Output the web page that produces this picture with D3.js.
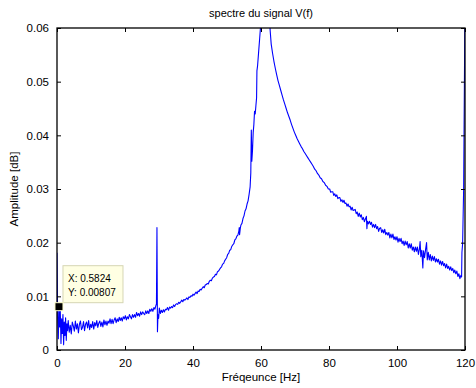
<!DOCTYPE html>
<html>
<head>
<meta charset="utf-8">
<script src="https://cdn.jsdelivr.net/npm/d3@7"></script>
<style>
  html, body { margin: 0; padding: 0; background: #fff; }
  svg { display: block; }
  text { font-family: "Liberation Sans", Arial, Helvetica, sans-serif; fill: #000; }
</style>
</head>
<body>
<svg id="chart" width="476" height="388"></svg>
<script>
// ---- Data ----
const titleText = "spectre du signal V(f)";
const xLabel = "Fréqeunce [Hz]";
const yLabel = "Amplitude [dB]";
const xTicks = [0, 20, 40, 60, 80, 100, 120];
const yTicks = [0, 0.01, 0.02, 0.03, 0.04, 0.05, 0.06];
const datatip = { x: 0.5824, y: 0.00807 };

const lowBand = [
  [0, 0.0181], [0.19, 0.0062], [0.39, 0.0021], [0.58, 0.00807], [0.78, 0.0043], [0.97, 0.0072],
  [1.17, 0.0012], [1.36, 0.0058], [1.56, 0.0031], [1.75, 0.0066], [1.95, 0.0010], [2.14, 0.0052],
  [2.34, 0.0027], [2.53, 0.0060], [2.73, 0.0018], [2.92, 0.0049], [3.1, 0.0036],
  [3.3, 0.0055], [3.6, 0.0033], [3.9, 0.0046], [4.2, 0.0030], [4.5, 0.0052], [4.8, 0.0045],
  [5.1, 0.0035], [5.4, 0.0054], [5.7, 0.0039], [6.0, 0.0049], [6.3, 0.0032], [6.6, 0.0048],
  [6.9, 0.0054], [7.2, 0.0038], [7.5, 0.0042], [7.8, 0.0053], [8.1, 0.0036], [8.4, 0.0048],
  [8.7, 0.0052], [9.0, 0.0041], [9.3, 0.0055], [9.6, 0.0038], [9.9, 0.0048], [10.2, 0.0042],
  [10.5, 0.0053], [10.8, 0.0039], [11.1, 0.0051], [11.4, 0.0045], [11.7, 0.0055], [12.0, 0.0042],
  [12.3, 0.0050], [12.6, 0.0054], [12.9, 0.0044], [13.2, 0.0052], [13.5, 0.0043], [13.8, 0.0056],
  [14.1, 0.0047], [14.4, 0.0054], [14.7, 0.0046], [15.0, 0.0054], [15.3, 0.0050], [15.6, 0.0058],
  [15.9, 0.0049], [16.2, 0.0057], [16.5, 0.0049], [16.8, 0.0056], [17.1, 0.0060], [17.4, 0.0051],
  [17.7, 0.0058], [18.0, 0.0053], [18.3, 0.0061], [18.6, 0.0055], [18.9, 0.0060], [19.2, 0.0054],
  [19.5, 0.0062], [19.8, 0.0058], [20.1, 0.0064], [20.4, 0.0056], [20.7, 0.0062], [21.0, 0.0058],
  [21.3, 0.0066], [21.6, 0.0062], [21.9, 0.0058], [22.2, 0.0066], [22.5, 0.0061], [22.8, 0.0066],
  [23.1, 0.0061], [23.4, 0.0070], [23.7, 0.0064], [24.0, 0.0068], [24.3, 0.0063], [24.6, 0.0071],
  [24.9, 0.0066], [25.2, 0.0071], [25.5, 0.0068], [25.8, 0.0066], [26.1, 0.0073], [26.4, 0.0068],
  [26.7, 0.0073], [27.0, 0.0068], [27.3, 0.0076], [27.6, 0.0072], [27.9, 0.0077], [28.2, 0.0072],
  [28.5, 0.0079], [28.8, 0.0076], [29.1, 0.0083], [29.25, 0.0086]
];

const spike30 = [
  [29.4, 0.0228], [29.55, 0.0034], [29.7, 0.0066], [29.9, 0.0059], [30.1, 0.0078],
  [30.4, 0.0068], [30.7, 0.0074], [31.0, 0.0070]
];

const riseBand = [
  [31.3, 0.0075], [31.6, 0.0071], [31.9, 0.0076], [32.2, 0.0075], [32.5, 0.0079], [32.8, 0.0074],
  [33.1, 0.0080], [33.4, 0.0078], [33.7, 0.0081], [34.0, 0.0079], [34.3, 0.0084], [34.6, 0.0081],
  [34.9, 0.0085], [35.2, 0.0086], [35.5, 0.0085], [35.8, 0.0089], [36.1, 0.0087], [36.4, 0.0090],
  [36.7, 0.0093], [37.0, 0.0090], [37.3, 0.0094], [37.6, 0.0093], [37.9, 0.0095], [38.2, 0.0097],
  [38.5, 0.0094], [38.8, 0.0099], [39.1, 0.0098], [39.4, 0.0101], [39.7, 0.0100], [40.0, 0.0104],
  [40.3, 0.0102], [40.6, 0.0105], [40.9, 0.0108], [41.2, 0.0105], [41.5, 0.0110], [41.8, 0.0109],
  [42.1, 0.0113], [42.4, 0.0112], [42.7, 0.0115], [43.0, 0.0118], [43.3, 0.0116], [43.6, 0.0121],
  [43.9, 0.0122], [44.2, 0.0124], [44.5, 0.0123], [44.8, 0.0128], [45.1, 0.0130], [45.4, 0.0129],
  [45.7, 0.0134], [46.0, 0.0136], [46.3, 0.0137], [46.6, 0.0141], [46.9, 0.0140], [47.2, 0.0146],
  [47.5, 0.0147], [47.8, 0.0150], [48.1, 0.0153], [48.4, 0.0155], [48.7, 0.0160], [49.0, 0.0161],
  [49.3, 0.0166], [49.6, 0.0169], [49.9, 0.0172], [50.2, 0.0178], [50.5, 0.0180], [50.8, 0.0186],
  [51.1, 0.0187], [51.4, 0.0193], [51.7, 0.0196], [52.0, 0.0198], [52.3, 0.0205], [52.6, 0.0207],
  [52.9, 0.0212], [53.2, 0.0214], [53.5, 0.0222], [53.6, 0.0228], [53.7, 0.0215], [53.9, 0.0226],
  [54.1, 0.0233], [54.4, 0.0236], [54.7, 0.0245], [55.0, 0.0250], [55.3, 0.0259], [55.6, 0.0263],
  [55.9, 0.0272], [56.2, 0.0278]
];

const peakBand = [
  [56.5, 0.0290], [56.8, 0.0304], [57.0, 0.0330], [57.15, 0.0410], [57.3, 0.0352], [57.5, 0.0372],
  [57.7, 0.0405], [57.9, 0.0420], [58.1, 0.0445], [58.3, 0.0440], [58.5, 0.0455], [58.7, 0.0470],
  [58.8, 0.0520], [59.0, 0.0530], [59.3, 0.0555], [59.6, 0.0580], [59.9, 0.0605], [60.3, 0.0680],
  [60.7, 0.0850], [61.2, 0.1200], [61.6, 0.1000], [62.0, 0.0750], [62.4, 0.0625], [62.7, 0.0595],
  [63.0, 0.0570]
];

const decayBand = [
  [63.4, 0.0553], [63.8, 0.0538], [64.2, 0.0525], [64.6, 0.0513], [65.0, 0.0502], [65.4, 0.0493],
  [65.8, 0.0484], [66.2, 0.0475], [66.6, 0.0466], [67.0, 0.0458], [67.4, 0.0450], [67.8, 0.0442],
  [68.2, 0.0435], [68.6, 0.0428], [69.0, 0.0420], [69.4, 0.0413], [69.8, 0.0406], [70.2, 0.0400],
  [70.6, 0.0394], [71.0, 0.0389], [71.4, 0.0384], [71.8, 0.0379], [72.2, 0.0375], [72.6, 0.0370],
  [73.0, 0.0366], [73.4, 0.0362], [73.8, 0.0358], [74.2, 0.0354], [74.6, 0.0350], [75.0, 0.0346],
  [75.4, 0.0342], [75.8, 0.0337], [76.2, 0.0334], [76.6, 0.0329], [77.0, 0.0326], [77.4, 0.0321],
  [77.8, 0.0319], [78.2, 0.0314], [78.6, 0.0312], [79.0, 0.0307], [79.4, 0.0305], [79.8, 0.0300],
  [80.2, 0.0300], [80.5, 0.0294], [80.8, 0.0295], [81.1, 0.0295], [81.4, 0.0288], [81.7, 0.0291],
  [82.0, 0.0286], [82.3, 0.0289], [82.6, 0.0282], [82.9, 0.0284], [83.2, 0.0284], [83.5, 0.0277],
  [83.8, 0.0280], [84.1, 0.0275], [84.4, 0.0279], [84.7, 0.0273], [85.0, 0.0274], [85.3, 0.0268],
  [85.6, 0.0272], [85.9, 0.0267], [86.2, 0.0268], [86.5, 0.0261], [86.8, 0.0266], [87.1, 0.0260],
  [87.4, 0.0261], [87.7, 0.0262], [88.0, 0.0254], [88.3, 0.0257], [88.6, 0.0249], [88.9, 0.0255],
  [89.2, 0.0248], [89.5, 0.0252], [89.8, 0.0243], [90.1, 0.0247], [90.4, 0.0239], [90.7, 0.0244],
  [91.0, 0.0249], [91.15, 0.0226], [91.3, 0.0240], [91.6, 0.0235], [91.9, 0.0240], [92.2, 0.0234],
  [92.5, 0.0238], [92.8, 0.0229], [93.1, 0.0234], [93.4, 0.0228], [93.7, 0.0234], [94.0, 0.0226],
  [94.3, 0.0230], [94.6, 0.0221], [94.9, 0.0227], [95.2, 0.0228], [95.5, 0.0219], [95.8, 0.0224],
  [96.1, 0.0218], [96.4, 0.0225], [96.7, 0.0215], [97.0, 0.0219], [97.3, 0.0214], [97.6, 0.0219],
  [97.9, 0.0209], [98.2, 0.0216], [98.5, 0.0209], [98.8, 0.0216], [99.1, 0.0206], [99.4, 0.0211],
  [99.7, 0.0205], [100.0, 0.0211], [100.3, 0.0201], [100.6, 0.0208], [100.9, 0.0202], [101.2, 0.0208],
  [101.5, 0.0198], [101.8, 0.0203], [102.1, 0.0195], [102.4, 0.0203], [102.7, 0.0196], [103.0, 0.0202],
  [103.3, 0.0190], [103.6, 0.0198], [103.9, 0.0190], [104.2, 0.0198], [104.5, 0.0186], [104.8, 0.0192],
  [105.1, 0.0183], [105.4, 0.0192], [105.7, 0.0184], [106.0, 0.0192], [106.3, 0.0178], [106.6, 0.0189],
  [106.8, 0.0202], [107.0, 0.0174], [107.3, 0.0186], [107.6, 0.0153], [107.8, 0.0185], [108.1, 0.0172],
  [108.4, 0.0187], [108.7, 0.0200], [108.9, 0.0168], [109.2, 0.0182], [109.5, 0.0168], [109.8, 0.0178],
  [110.1, 0.0166], [110.4, 0.0175], [110.7, 0.0167], [111.0, 0.0174], [111.3, 0.0164], [111.6, 0.0170],
  [111.9, 0.0164], [112.2, 0.0169], [112.5, 0.0160], [112.8, 0.0166], [113.1, 0.0158], [113.4, 0.0165],
  [113.7, 0.0157], [114.0, 0.0161], [114.3, 0.0153], [114.6, 0.0160], [114.9, 0.0152], [115.2, 0.0156],
  [115.5, 0.0149], [115.8, 0.0155], [116.1, 0.0148], [116.4, 0.0152], [116.7, 0.0144], [117.0, 0.0149],
  [117.3, 0.0142], [117.6, 0.0147], [117.9, 0.0137], [118.2, 0.0142], [118.5, 0.0133], [118.8, 0.0139]
];

const edgeBand = [
  [119.0, 0.0136], [119.1, 0.0182], [119.3, 0.0198], [119.6, 0.0300], [120.0, 0.0650]
];

// ---- Layout ----
const W = 476, H = 388;
const margin = { top: 28, right: 11, bottom: 38, left: 57 };
const iw = W - margin.left - margin.right;
const ih = H - margin.top - margin.bottom;

const svg = d3.select("#chart");
const g = svg.append("g").attr("transform", `translate(${margin.left},${margin.top})`);

const x = d3.scaleLinear().domain([0, 120]).range([0, iw]);
const y = d3.scaleLinear().domain([0, 0.06]).range([ih, 0]);

const spectrum = [].concat(lowBand, spike30, riseBand, peakBand, decayBand, edgeBand);

svg.append("defs").append("clipPath").attr("id", "clip")
  .append("rect").attr("x", 0).attr("y", 0).attr("width", iw).attr("height", ih);

g.append("path")
  .datum(spectrum)
  .attr("clip-path", "url(#clip)")
  .attr("fill", "none")
  .attr("stroke", "#0000ff")
  .attr("stroke-width", 1.1)
  .attr("stroke-linejoin", "round")
  .attr("d", d3.line().x(d => x(d[0])).y(d => y(d[1])));

// ---- Axes (MATLAB style box with inward ticks) ----
const fmtY = d => d === 0 ? "0" : d3.format(".2f")(d);
const tickLen = 4;
const axisStyle = sel => {
  sel.select(".domain").remove();
  sel.selectAll("line").attr("stroke", "#000").attr("stroke-width", 1);
  sel.selectAll("text").style("font-family", '"Liberation Sans", Arial, sans-serif').style("font-size", "11.5px").attr("fill", "#000");
};

g.append("g").attr("transform", `translate(0,${ih})`)
  .call(d3.axisBottom(x).tickValues(xTicks).tickSize(-tickLen).tickPadding(9).tickFormat(d3.format("d")))
  .call(axisStyle);
g.append("g")
  .call(d3.axisTop(x).tickValues(xTicks).tickSize(-tickLen).tickFormat(""))
  .call(axisStyle);
g.append("g")
  .call(d3.axisLeft(y).tickValues(yTicks).tickSize(-tickLen).tickPadding(8).tickFormat(fmtY))
  .call(axisStyle);
g.append("g").attr("transform", `translate(${iw},0)`)
  .call(d3.axisRight(y).tickValues(yTicks).tickSize(-tickLen).tickFormat(""))
  .call(axisStyle);

g.append("rect")
  .attr("x", 0).attr("y", 0).attr("width", iw).attr("height", ih)
  .attr("fill", "none").attr("stroke", "#000").attr("stroke-width", 1.3);

// ---- Labels ----
svg.append("text")
  .attr("x", margin.left + iw / 2).attr("y", 17)
  .attr("text-anchor", "middle").style("font-size", "11px")
  .text(titleText);
svg.append("text")
  .attr("x", margin.left + iw / 2).attr("y", 381)
  .attr("text-anchor", "middle").style("font-size", "11.5px")
  .text(xLabel);
svg.append("text")
  .attr("transform", `translate(18,${margin.top + ih / 2}) rotate(-90)`)
  .attr("text-anchor", "middle").style("font-size", "11.5px")
  .text(yLabel);

// ---- Data tip ----
const px = x(datatip.x), py = y(datatip.y);
const tip = g.append("g");
tip.append("rect")
  .attr("x", px + 4).attr("y", py - 41).attr("width", 60).attr("height", 37)
  .attr("fill", "#ffffe3").attr("stroke", "#d6d6b4").attr("stroke-width", 1);
tip.append("text").attr("x", px + 9).attr("y", py - 25)
  .style("font-size", "10px").text("X: " + datatip.x);
tip.append("text").attr("x", px + 9).attr("y", py - 11)
  .style("font-size", "10px").text("Y: " + datatip.y);
tip.append("rect")
  .attr("x", px - 4).attr("y", py - 4).attr("width", 8).attr("height", 8)
  .attr("fill", "#000").attr("stroke", "#ffffcc").attr("stroke-width", 1);
</script>
</body>
</html>
